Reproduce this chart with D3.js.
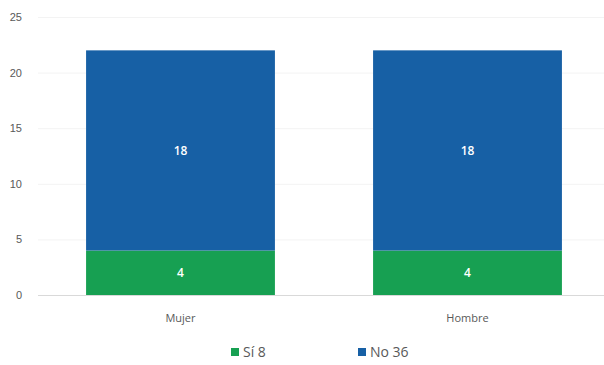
<!DOCTYPE html>
<html>
<head>
<meta charset="utf-8">
<script src="https://cdn.jsdelivr.net/npm/d3@7"></script>
<style>
  body { margin: 0; background: #fff; }
  svg { display: block; font-family: "Open Sans", "Liberation Sans", sans-serif; }
</style>
</head>
<body>
<div id="chart"></div>
<script>
// Stacked bars: answers by sex
const categories = ['Mujer', 'Hombre'];
const siValues = [4, 4];
const noValues = [18, 18];
const seriesNames = ['Sí', 'No'];
const seriesTotals = [8, 36];
const yTicks = [0, 5, 10, 15, 20, 25];
const colors = ['#17a052', '#1760a5'];

const width = 604, height = 365;
const svg = d3.select('#chart').append('svg')
    .attr('width', width)
    .attr('height', height);

const x = d3.scaleBand()
    .domain(categories)
    .range([37, 611])
    .paddingInner(0.342)
    .paddingOuter(0.171);

const y = d3.scaleLinear()
    .domain([0, 25])
    .range([295, 17]);

// gridlines
svg.append('g')
    .selectAll('line')
    .data(yTicks.slice(1))
    .enter()
    .append('line')
    .attr('x1', 38)
    .attr('x2', width)
    .attr('y1', d => y(d) + 0.5)
    .attr('y2', d => y(d) + 0.5)
    .attr('stroke', '#f3f3f3');

// baseline
svg.append('line')
    .attr('x1', 38)
    .attr('x2', width)
    .attr('y1', y(0) + 0.5)
    .attr('y2', y(0) + 0.5)
    .attr('stroke', '#d9d9d9');

// y axis labels
const yAxis = svg.append('g')
    .attr('transform', 'translate(22,0)')
    .call(d3.axisLeft(y).tickValues(yTicks).tickSize(0).tickPadding(0));
yAxis.select('.domain').remove();
yAxis.selectAll('text')
    .attr('fill', '#595959')
    .attr('font-size', 11)
    .attr('text-anchor', 'end');

const table = categories.map((c, i) => ({ cat: c, 'Sí': siValues[i], 'No': noValues[i] }));
const stacked = d3.stack().keys(seriesNames)(table);

stacked.forEach((layer, li) => {
    const g = svg.append('g');
    g.selectAll('rect')
        .data(layer)
        .enter()
        .append('rect')
        .attr('x', d => x(d.data.cat))
        .attr('width', x.bandwidth())
        .attr('y', d => y(d[1]))
        .attr('height', d => y(d[0]) - y(d[1]))
        .attr('fill', colors[li]);
    g.selectAll('text')
        .data(layer)
        .enter()
        .append('text')
        .attr('x', d => x(d.data.cat) + x.bandwidth() / 2)
        .attr('y', d => y((d[0] + d[1]) / 2))
        .attr('dy', '0.35em')
        .attr('text-anchor', 'middle')
        .attr('fill', '#fff')
        .attr('font-size', 12)
        .attr('font-weight', 600)
        .text(d => d[1] - d[0]);
});

// category labels
svg.append('g')
    .selectAll('text')
    .data(categories)
    .enter()
    .append('text')
    .attr('x', d => x(d) + x.bandwidth() / 2)
    .attr('y', 322)
    .attr('text-anchor', 'middle')
    .attr('fill', '#595959')
    .attr('font-size', 11)
    .text(d => d);

// legend
const legendX = [231, 358];
const legend = svg.append('g')
    .selectAll('g')
    .data(seriesNames)
    .enter()
    .append('g')
    .attr('transform', (d, i) => `translate(${legendX[i]},348)`);
legend.append('rect')
    .attr('width', 8)
    .attr('height', 8)
    .attr('fill', (d, i) => colors[i]);
legend.append('text')
    .attr('x', 12)
    .attr('y', 4)
    .attr('dy', '0.35em')
    .attr('fill', '#595959')
    .attr('font-size', 14)
    .text((d, i) => `${d} ${seriesTotals[i]}`);
</script>
</body>
</html>
